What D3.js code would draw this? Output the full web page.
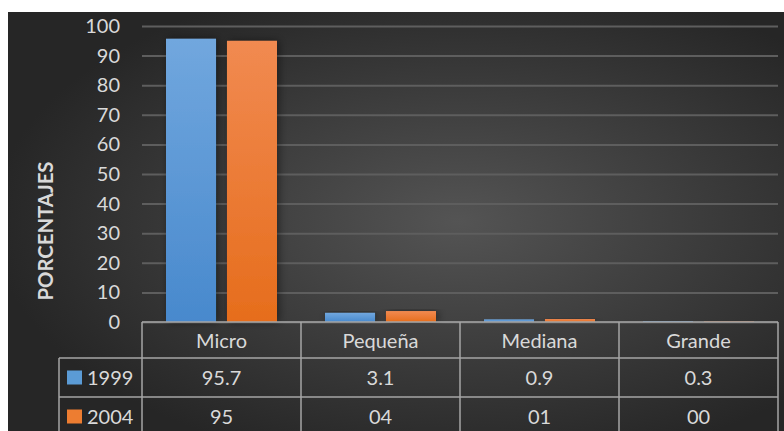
<!DOCTYPE html>
<html>
<head>
<meta charset="utf-8">
<script src="https://cdn.jsdelivr.net/npm/d3@7"></script>
<style>
  html, body { margin: 0; padding: 0; background: #fff; }
  svg { display: block; font-family: Lato, "Open Sans", sans-serif; }
</style>
</head>
<body>
<svg id="chart" width="784" height="431"></svg>
<script>
var CATEGORIES = ['Micro', 'Pequeña', 'Mediana', 'Grande'];
var YEARS = ['1999', '2004'];
var VALUES_1999 = [95.7, 3.1, 0.9, 0.3];
var VALUES_2004 = [95, 3.7, 1.0, 0.2];
var Y_TICKS = [0, 10, 20, 30, 40, 50, 60, 70, 80, 90, 100];
var Y_TITLE = 'PORCENTAJES';

var TEXT_COLOR = '#d9d9d9';
var LINE_COLOR = '#a6a6a6';

var svg = d3.select('#chart');
var defs = svg.append('defs');

// ----- Background ------------------------------------------------------------
var bg = defs.append('radialGradient')
    .attr('id', 'bg')
    .attr('cx', '58%').attr('cy', '50%').attr('r', '60%');
bg.append('stop').attr('offset', '0%').attr('stop-color', '#545454');
bg.append('stop').attr('offset', '100%').attr('stop-color', '#262626');

svg.append('rect')
    .attr('x', 8).attr('y', 12)
    .attr('width', 776).attr('height', 419)
    .attr('fill', 'url(#bg)');

function barGradient(id, top, bottom) {
  var g = defs.append('linearGradient')
      .attr('id', id)
      .attr('x1', 0).attr('y1', 0).attr('x2', 0).attr('y2', 1);
  g.append('stop').attr('offset', '0%').attr('stop-color', top);
  g.append('stop').attr('offset', '100%').attr('stop-color', bottom);
}
barGradient('blue', '#71a7de', '#4889cd');
barGradient('orange', '#f18a51', '#e66d1c');

var shadow = defs.append('filter').attr('id', 'shadow')
    .attr('x', '-30%').attr('y', '-10%').attr('width', '160%').attr('height', '120%');
shadow.append('feDropShadow')
    .attr('dx', 2).attr('dy', 0).attr('stdDeviation', 4)
    .attr('flood-color', '#000').attr('flood-opacity', 0.45);

var FILLS = { '1999': 'url(#blue)', '2004': 'url(#orange)' };
var SWATCH = { '1999': '#5b9bd5', '2004': '#ed7d31' };

// ----- Scales ----------------------------------------------------------------
var plot = { left: 142, right: 778, top: 26, bottom: 322 };

var x0 = d3.scaleBand().domain(CATEGORIES).range([plot.left, plot.right]);
var x1 = d3.scaleBand().domain(YEARS)
    .range([24, x0.bandwidth() - 24])
    .paddingInner(0.18);
var y = d3.scaleLinear().domain([0, 100]).range([plot.bottom, plot.top]);

// ----- Axis & grid -----------------------------------------------------------
var yAxis = svg.append('g')
    .attr('transform', 'translate(' + plot.left + ',0)')
    .call(d3.axisLeft(y)
      .tickValues(Y_TICKS)
      .tickSize(-(plot.right - plot.left))
      .tickPadding(22));

yAxis.select('.domain').remove();
yAxis.selectAll('.tick line')
    .attr('stroke', '#5e5e5e')
    .attr('stroke-width', 2);
yAxis.selectAll('.tick text')
    .attr('fill', TEXT_COLOR)
    .attr('font-size', 20)
    .attr('font-family', 'Lato, sans-serif');

svg.append('text')
    .attr('transform', 'translate(53,231) rotate(-90)')
    .attr('text-anchor', 'middle')
    .attr('fill', TEXT_COLOR)
    .attr('font-size', 20)
    .attr('font-weight', 'bold')
    .attr('textLength', 139)
    .attr('lengthAdjust', 'spacingAndGlyphs')
    .text(Y_TITLE);

// ----- Bars ------------------------------------------------------------------
var rows = CATEGORIES.map(function(c, i) {
  return { category: c, values: { '1999': VALUES_1999[i], '2004': VALUES_2004[i] } };
});

var groups = svg.selectAll('.group')
    .data(rows)
  .enter().append('g')
    .attr('class', 'group')
    .attr('transform', function(d) { return 'translate(' + x0(d.category) + ',0)'; });

groups.selectAll('rect')
    .data(function(d) { return YEARS.map(function(yr) { return { year: yr, value: d.values[yr] }; }); })
  .enter().append('rect')
    .attr('x', function(d) { return x1(d.year); })
    .attr('width', x1.bandwidth())
    .attr('y', function(d) { return y(d.value); })
    .attr('height', function(d) { return y(0) - y(d.value); })
    .attr('fill', function(d) { return FILLS[d.year]; })
    .attr('filter', 'url(#shadow)');

// ----- Data table ------------------------------------------------------------
var headerTop = plot.bottom;
var rowH = [36, 39, 39];
var rowTop = [headerTop, headerTop + rowH[0], headerTop + rowH[0] + rowH[1]];
var tableLeft = 59;
var fmt2004 = d3.format('02.0f');
var tableValues = {
  '1999': VALUES_1999.map(String),
  '2004': VALUES_2004.map(fmt2004)
};

var table = svg.append('g')
    .attr('stroke', LINE_COLOR)
    .attr('stroke-width', 1.5);

table.append('line')
    .attr('x1', plot.left).attr('x2', plot.right)
    .attr('y1', headerTop).attr('y2', headerTop);
[rowTop[1], rowTop[2]].forEach(function(yy) {
  table.append('line')
      .attr('x1', tableLeft).attr('x2', plot.right)
      .attr('y1', yy).attr('y2', yy);
});
table.append('line')
    .attr('x1', tableLeft).attr('x2', tableLeft)
    .attr('y1', rowTop[1]).attr('y2', 431);
CATEGORIES.concat([null]).forEach(function(c) {
  var xx = c === null ? plot.right : x0(c);
  table.append('line')
      .attr('x1', xx).attr('x2', xx)
      .attr('y1', headerTop).attr('y2', 431);
});

svg.selectAll('.cat-label')
    .data(CATEGORIES)
  .enter().append('text')
    .attr('class', 'cat-label')
    .attr('x', function(d) { return x0(d) + x0.bandwidth() / 2; })
    .attr('y', headerTop + rowH[0] / 2 + 1)
    .attr('dy', '0.35em')
    .attr('text-anchor', 'middle')
    .attr('fill', TEXT_COLOR)
    .attr('font-size', 20)
    .text(function(d) { return d; });

YEARS.forEach(function(yr, r) {
  var top = rowTop[r + 1];
  var mid = top + rowH[r + 1] / 2;

  svg.append('rect')
      .attr('x', 67).attr('y', mid - 7)
      .attr('width', 15).attr('height', 14)
      .attr('fill', SWATCH[yr]);

  svg.append('text')
      .attr('x', 87).attr('y', mid)
      .attr('dy', '0.35em')
      .attr('fill', TEXT_COLOR)
      .attr('font-size', 20)
      .text(yr);

  svg.selectAll('.val-' + yr)
      .data(CATEGORIES)
    .enter().append('text')
      .attr('x', function(d) { return x0(d) + x0.bandwidth() / 2; })
      .attr('y', mid)
      .attr('dy', '0.35em')
      .attr('text-anchor', 'middle')
      .attr('fill', TEXT_COLOR)
      .attr('font-size', 20)
      .text(function(d, i) { return tableValues[yr][i]; });
});
</script>
</body>
</html>
